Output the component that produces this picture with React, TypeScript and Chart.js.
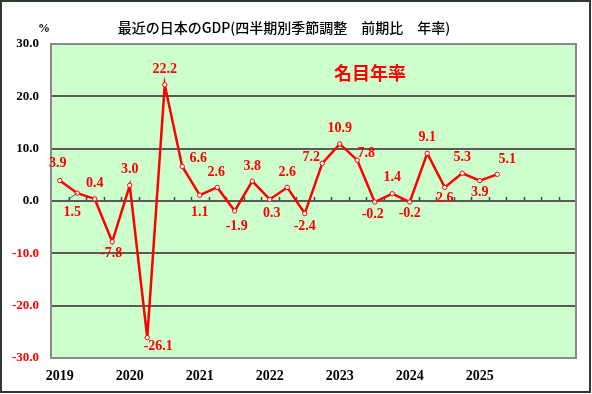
import React, { useEffect, useRef } from "react";
import { Chart, registerables } from "chart.js";

Chart.register(...registerables);

const categories = [
  "2019", "", "", "",
  "2020", "", "", "",
  "2021", "", "", "",
  "2022", "", "", "",
  "2023", "", "", "",
  "2024", "", "", "",
  "2025", "", "", "",
  "2026", "",
];
const yearTickLabels = ["2019", "2020", "2021", "2022", "2023", "2024", "2025"];

const nominalAnnualRate = [
  3.9, 1.5, 0.4, -7.8,
  3.0, -26.1, 22.2, 6.6,
  1.1, 2.6, -1.9, 3.8,
  0.3, 2.6, -2.4, 7.2,
  10.9, 7.8, -0.2, 1.4,
  -0.2, 9.1, 2.6, 5.3,
  3.9, 5.1,
];

// label placement relative to each point (dx, dy)
const labelDx = [-2, -5, 0, -1, 0, 11, 0, 16, 0, -1, 2, 0, 2, 0, 0, -11, 0, 9, -2, 0, 0, 0, 0, 0, 0, 10];
const labelDy = [-17, 19, -16, 12, -16, 9, -15, -8, 17, -15, 15, -15, 14, -15, 13, -6, -16, -7, 12, -16, 11, -16, 11, -16, 12, -15];
const leaderLabelIndexes = [1];

const titleText = "最近の日本のGDP(四半期別季節調整　前期比　年率)";
const seriesText = "名目年率";
const unitText = "%";

const decorPlugin = {
  id: "decor",
  beforeDraw(chart: any) {
    const { ctx, chartArea, width, height } = chart;
    ctx.save();
    ctx.fillStyle = "#ffffff";
    ctx.fillRect(0, 0, width, height);
    ctx.fillStyle = "#ccffcc";
    ctx.fillRect(chartArea.left, chartArea.top, chartArea.right - chartArea.left, chartArea.bottom - chartArea.top);
    ctx.restore();
  },
  beforeDatasetsDraw(chart: any) {
    const { ctx, chartArea } = chart;
    const x = chart.scales.x;
    const y = chart.scales.y;
    const y0 = y.getPixelForValue(0);
    ctx.save();
    ctx.strokeStyle = "#4a4a4a";
    ctx.lineWidth = 1.5;
    ctx.beginPath();
    for (let i = 1; i < categories.length; i++) {
      const px = (x.getPixelForValue(i - 1) + x.getPixelForValue(i)) / 2;
      ctx.moveTo(Math.round(px) + 0.5, y0);
      ctx.lineTo(Math.round(px) + 0.5, y0 - 4);
    }
    ctx.stroke();
    // plot border
    ctx.strokeStyle = "#8a8a8a";
    ctx.lineWidth = 2;
    ctx.strokeRect(chartArea.left, chartArea.top, chartArea.right - chartArea.left, chartArea.bottom - chartArea.top);
    ctx.restore();
  },
  afterDatasetsDraw(chart: any) {
    const { ctx } = chart;
    const meta = chart.getDatasetMeta(0);
    ctx.save();
    ctx.font = "bold 14px 'Liberation Serif', 'Times New Roman', serif";
    ctx.fillStyle = "#ff0000";
    ctx.textAlign = "center";
    ctx.textBaseline = "middle";
    meta.data.forEach((pt: any, i: number) => {
      const v = nominalAnnualRate[i];
      const lx = pt.x + labelDx[i];
      const ly = pt.y + labelDy[i];
      if (leaderLabelIndexes.includes(i)) {
        ctx.save();
        ctx.strokeStyle = "#4a6a4a";
        ctx.lineWidth = 1;
        ctx.beginPath();
        ctx.moveTo(lx - 4, ly - 13);
        ctx.lineTo(pt.x, pt.y);
        ctx.stroke();
        ctx.restore();
      }
      ctx.fillText(v.toFixed(1), lx, ly);
    });
    ctx.restore();
  },
  afterDraw(chart: any) {
    const { ctx, width, height } = chart;
    ctx.save();
    ctx.fillStyle = "#000000";
    ctx.textBaseline = "middle";
    ctx.textAlign = "center";
    ctx.font = "500 14px 'Noto Sans CJK JP', sans-serif";
    ctx.fillText(titleText, 284, 28);
    ctx.font = "bold 12px 'Liberation Serif', serif";
    ctx.fillText(unitText, 44, 29);
    ctx.fillStyle = "#ff0000";
    ctx.font = "bold 18px 'Noto Sans CJK JP', sans-serif";
    ctx.fillText(seriesText, 370, 73);
    // outer frame
    ctx.strokeStyle = "#2e3a2e";
    ctx.lineWidth = 2;
    ctx.strokeRect(1, 1, width - 3, height - 3);
    ctx.restore();
  },
};

export default function App() {
  const ref = useRef<HTMLCanvasElement | null>(null);
  useEffect(() => {
    if (!ref.current) return;
    const chart = new Chart(ref.current, {
      type: "line",
      data: {
        labels: categories,
        datasets: [
          {
            label: seriesText,
            data: nominalAnnualRate,
            borderColor: "#ff0000",
            borderWidth: 2.5,
            pointRadius: 2.2,
            pointBackgroundColor: "#ffffff",
            pointBorderColor: "#ff0000",
            pointBorderWidth: 1,
            tension: 0,
          },
        ],
      },
      options: {
        responsive: false,
        animation: false,
        events: [],
        layout: { padding: { left: 0, top: 44, right: 16, bottom: 0 } },
        plugins: {
          legend: { display: false },
          title: { display: false },
          tooltip: { enabled: false },
        },
        scales: {
          x: {
            offset: true,
            grid: { display: false, drawTicks: false },
            border: { display: false },
            afterFit(scale: any) {
              scale.height = 36;
            },
            ticks: {
              autoSkip: false,
              maxRotation: 0,
              minRotation: 0,
              padding: 10,
              color: "#000000",
              font: { family: "'Liberation Serif', serif", size: 14, weight: "bold" },
              callback: (_v: any, i: number) => (yearTickLabels.includes(categories[i]) ? categories[i] : ""),
            },
          },
          y: {
            min: -30,
            max: 30,
            afterFit(scale: any) {
              scale.width = 51;
            },
            border: { display: false },
            grid: {
              drawTicks: false,
              lineWidth: 2,
              color: (c: any) => (c.tick && Math.abs(c.tick.value) === 30 ? "rgba(0,0,0,0)" : "#5a5a5a"),
            },
            ticks: {
              stepSize: 10,
              padding: 12,
              color: (c: any) => (c.tick && c.tick.value < 0 ? "#ff0000" : "#000000"),
              font: { family: "'Liberation Serif', serif", size: 13, weight: "bold" },
              callback: (v: any) => Number(v).toFixed(1),
            },
          },
        },
      },
      plugins: [decorPlugin],
    });
    return () => chart.destroy();
  }, []);
  return (
    <div style={{ position: "fixed", left: 0, top: 0, width: 592, height: 394 }}>
      <canvas ref={ref} width={592} height={394} />
    </div>
  );
}
